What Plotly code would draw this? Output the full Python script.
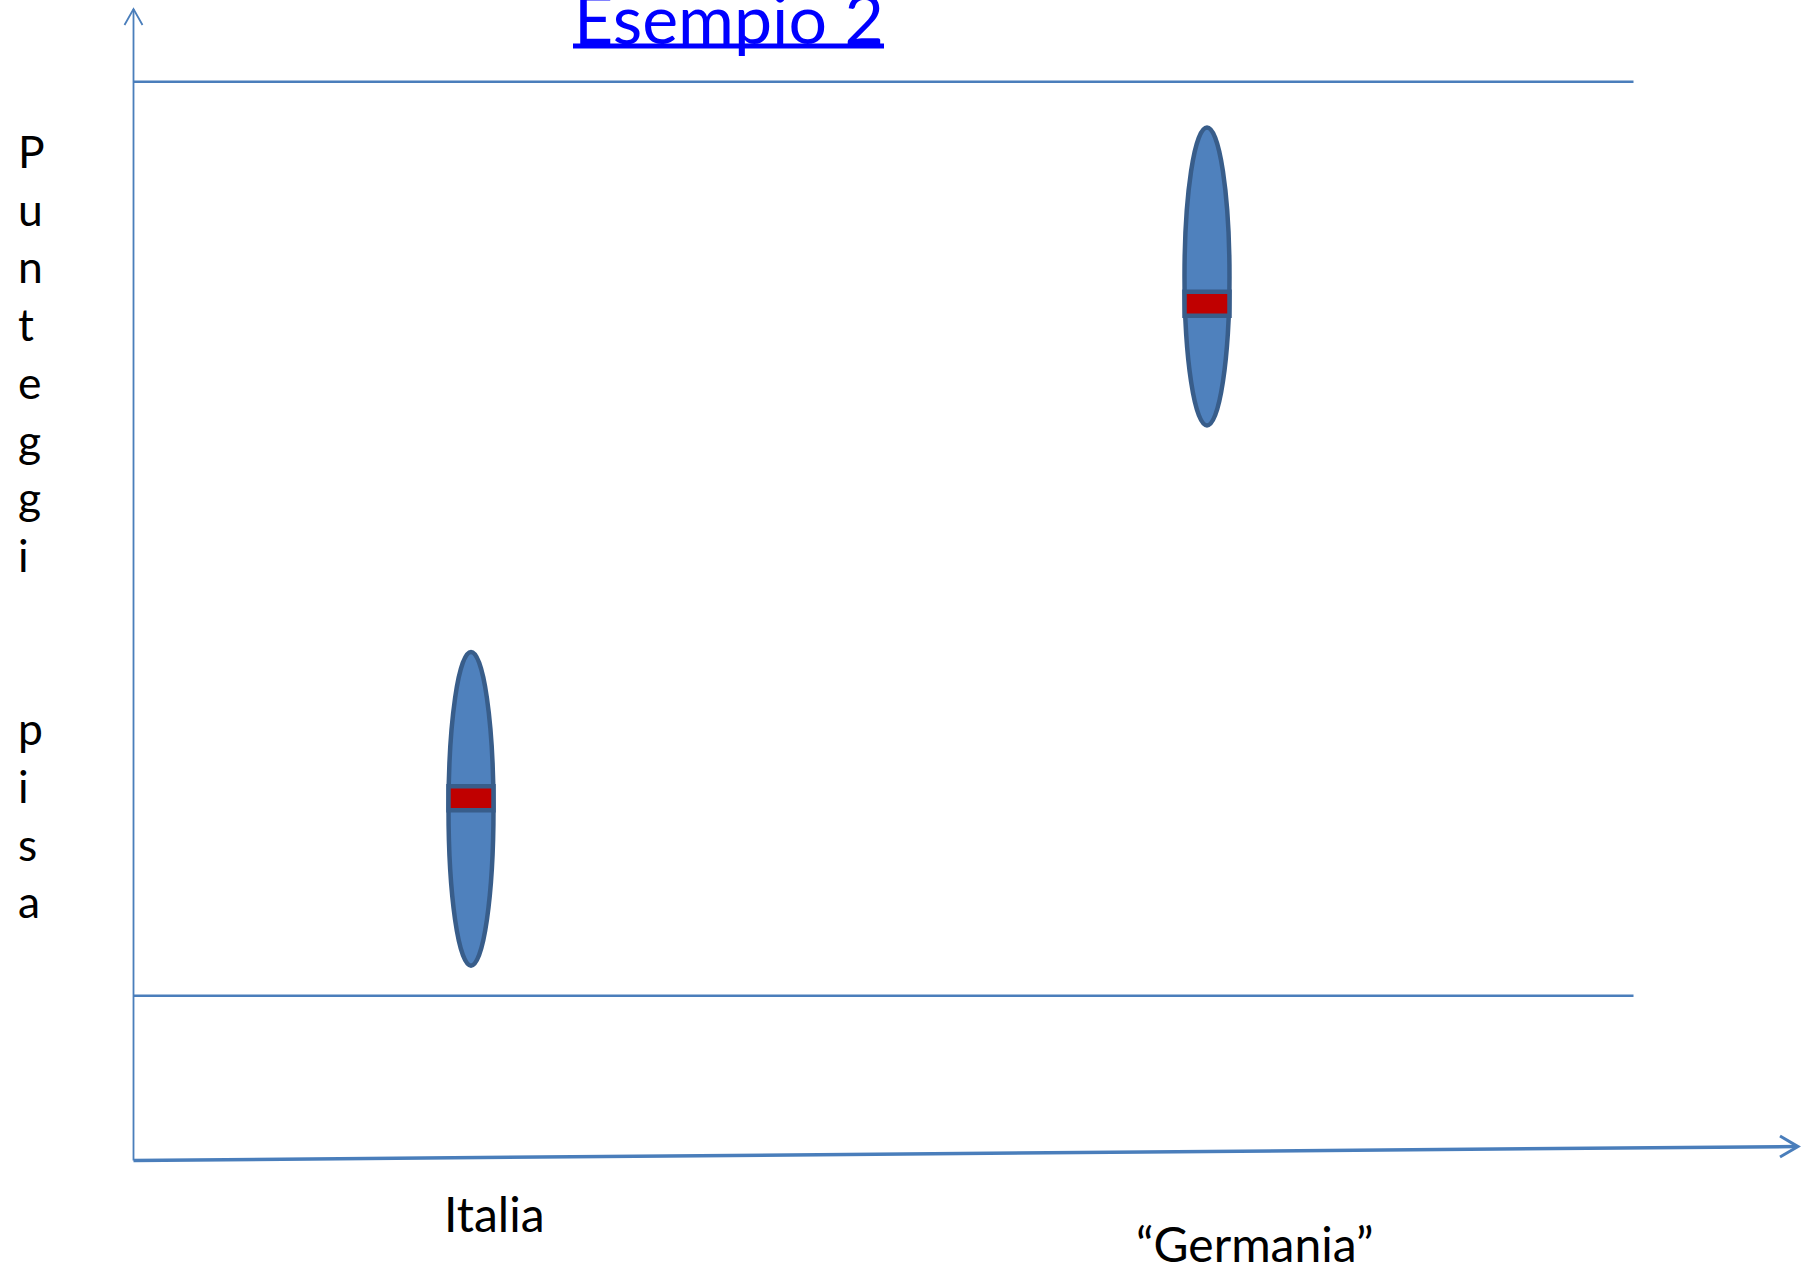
import plotly.graph_objects as go

# ---------------- data ----------------
countries = ["Italia", "Germania"]
country_labels = ["Italia", "\u201cGermania\u201d"]
x_pos = [1, 3]
score_low = [3.3, 62.4]
score_mean = [21.6, 75.7]
score_high = [37.6, 95.0]
ref_lines = [0, 100]
y_title = "Punteggi pisa"
chart_title = "Esempio 2"

# ---------------- layout geometry ----------------
W, H = 1805, 1269
X0_PX, PX_PER_X = 103.0, 368.0          # pixel of x=0, pixels per x unit
Y0_PX, PX_PER_Y = 995.8, 9.141          # pixel of score 0, pixels per score unit

x_range = [(0 - X0_PX) / PX_PER_X, (W - X0_PX) / PX_PER_X]
y_range = [(Y0_PX - H) / PX_PER_Y, Y0_PX / PX_PER_Y]


def px(x, y):
    """pixel -> paper coordinates"""
    return x / W, 1 - y / H


LINE_C = "#4A7EBB"
FILL_C = "#4F81BD"
EDGE_C = "#385D8A"
RED_C = "#C00000"

half_w = 22.5 / PX_PER_X
bar_half_h = 12.0 / PX_PER_Y
line_x0 = (133.5 - X0_PX) / PX_PER_X
line_x1 = (1633.5 - X0_PX) / PX_PER_X

fig = go.Figure()
# invisible trace to set up axes
fig.add_trace(go.Scatter(x=x_pos, y=score_mean, mode="markers",
                         marker=dict(size=1, opacity=0), hoverinfo="skip",
                         showlegend=False))

shapes = []
# horizontal reference lines
for v in ref_lines:
    shapes.append(dict(type="line", xref="x", yref="y", x0=line_x0, x1=line_x1,
                       y0=v, y1=v, line=dict(color=LINE_C, width=2.4)))

# vertical axis with arrow
ax0 = px(133.5, 1160.5)
ax1 = px(133.5, 9)
shapes.append(dict(type="line", xref="paper", yref="paper", x0=ax0[0], y0=ax0[1],
                   x1=ax1[0], y1=ax1[1], line=dict(color=LINE_C, width=1.8)))
a1, a2, a3 = px(124.5, 25), px(133.5, 9), px(142.5, 25)
shapes.append(dict(type="path", xref="paper", yref="paper",
                   path=f"M {a1[0]} {a1[1]} L {a2[0]} {a2[1]} L {a3[0]} {a3[1]}",
                   line=dict(color=LINE_C, width=1.8)))

# sloped horizontal axis with arrow
b0, b1 = px(133.5, 1160.5), px(1796, 1146.6)
shapes.append(dict(type="line", xref="paper", yref="paper", x0=b0[0], y0=b0[1],
                   x1=b1[0], y1=b1[1], line=dict(color=LINE_C, width=3.5)))
c1, c2, c3 = px(1780, 1136), px(1798, 1146.6), px(1780, 1157)
shapes.append(dict(type="path", xref="paper", yref="paper",
                   path=f"M {c1[0]} {c1[1]} L {c2[0]} {c2[1]} L {c3[0]} {c3[1]}",
                   line=dict(color=LINE_C, width=3)))

# ellipses (score ranges) and mean bars
for xp, lo, mu, hi in zip(x_pos, score_low, score_mean, score_high):
    shapes.append(dict(type="circle", xref="x", yref="y",
                       x0=xp - half_w, x1=xp + half_w, y0=lo, y1=hi,
                       fillcolor=FILL_C, line=dict(color=EDGE_C, width=4.5)))
    shapes.append(dict(type="rect", xref="x", yref="y",
                       x0=xp - half_w, x1=xp + half_w,
                       y0=mu - bar_half_h, y1=mu + bar_half_h,
                       fillcolor=RED_C, line=dict(color=EDGE_C, width=4.5)))

# title underline
u0, u1 = px(573, 46), px(884, 46)
shapes.append(dict(type="line", xref="paper", yref="paper", x0=u0[0], y0=u0[1],
                   x1=u1[0], y1=u1[1], line=dict(color="#0000FF", width=5)))

annotations = []
tx, ty = px(728.5, 17.4)
annotations.append(dict(text=chart_title, xref="paper", yref="paper", x=tx, y=ty,
                        xanchor="center", yanchor="middle", showarrow=False,
                        font=dict(family="Lato", size=68, color="#0000FF")))

# stacked vertical y-axis title
words = y_title.split(" ")
stack = "<br>".join(list(words[0])) + "<br> <br> <br>" + "<br>".join(list(words[1]))
sx, sy = px(16, 122.0)
annotations.append(dict(text=stack, xref="paper", yref="paper", x=sx, y=sy,
                        xanchor="left", yanchor="top", align="left", showarrow=False,
                        font=dict(family="Lato", size=44.4, color="#000000")))

# country labels
label_pos = [(494.5, 1213.4), (1254, 1243.0)]
for lab, (lx, ly) in zip(country_labels, label_pos):
    p = px(lx, ly)
    annotations.append(dict(text=lab, xref="paper", yref="paper", x=p[0], y=p[1],
                            xanchor="center", yanchor="middle", showarrow=False,
                            font=dict(family="Lato", size=48, color="#000000")))

fig.update_layout(
    width=W, height=H,
    margin=dict(l=0, r=0, t=0, b=0, pad=0),
    paper_bgcolor="white", plot_bgcolor="white",
    xaxis=dict(range=x_range, visible=False, fixedrange=True),
    yaxis=dict(range=y_range, visible=False, fixedrange=True),
    shapes=shapes, annotations=annotations,
    showlegend=False,
)

fig.write_html("out.html", config={"displayModeBar": False},
               post_script="document.body.style.margin='0';document.body.style.overflow='hidden';")
